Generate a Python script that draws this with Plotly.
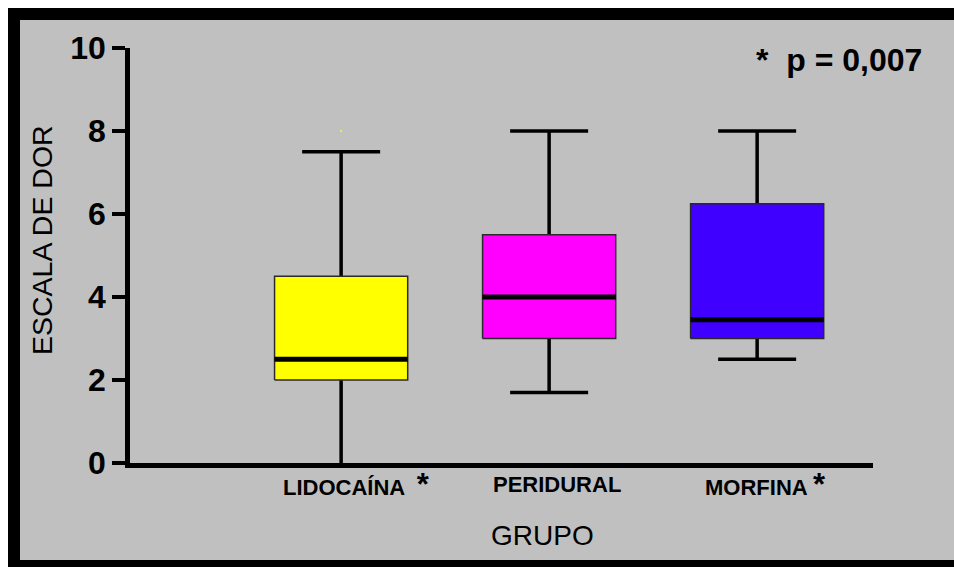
import plotly.graph_objects as go

# Pain score summary per group (box-and-whisker statistics)
grupos = ["LIDOCAÍNA", "PERIDURAL", "MORFINA"]
marcado = [True, False, True]          # groups flagged as significant
minimo = [0.0, 1.7, 2.5]
q1 = [2.0, 3.0, 3.0]
mediana = [2.5, 4.0, 3.45]
q3 = [4.5, 5.5, 6.25]
maximo = [7.5, 8.0, 8.0]
outliers = [[8.0], [], []]
cores = ["#ffff00", "#ff00ff", "#3f00ff"]
y_ticks = [0, 2, 4, 6, 8, 10]
p_texto = "*  p = 0,007"

posicoes = [1, 2, 3]
meia_caixa = 0.32
meia_barra = 0.1875

fig = go.Figure()

for i, g in enumerate(grupos):
    xc = posicoes[i]
    # whiskers
    fig.add_trace(go.Scatter(
        x=[xc, xc, None, xc, xc],
        y=[q3[i], maximo[i], None, q1[i], minimo[i]],
        mode="lines", line=dict(color="black", width=3.5),
        hoverinfo="skip", showlegend=False))
    # whisker caps (a cap lying on the axis merges with the axis line)
    cx, cy = [xc - meia_barra, xc + meia_barra], [maximo[i], maximo[i]]
    if minimo[i] > y_ticks[0]:
        cx += [None, xc - meia_barra, xc + meia_barra]
        cy += [None, minimo[i], minimo[i]]
    fig.add_trace(go.Scatter(
        x=cx, y=cy, mode="lines", line=dict(color="black", width=3.5),
        hoverinfo="skip", showlegend=False))
    # box body
    fig.add_trace(go.Scatter(
        x=[xc - meia_caixa, xc + meia_caixa, xc + meia_caixa, xc - meia_caixa, xc - meia_caixa],
        y=[q1[i], q1[i], q3[i], q3[i], q1[i]],
        mode="lines", fill="toself", fillcolor=cores[i],
        line=dict(color="#2a2a2a", width=1.5),
        name=g, showlegend=False))
    # median
    fig.add_trace(go.Scatter(
        x=[xc - meia_caixa, xc + meia_caixa],
        y=[mediana[i], mediana[i]],
        mode="lines", line=dict(color="black", width=5),
        hoverinfo="skip", showlegend=False))
    # outliers
    if outliers[i]:
        fig.add_trace(go.Scatter(
            x=[xc] * len(outliers[i]), y=outliers[i],
            mode="markers", marker=dict(color=cores[i], size=2),
            hoverinfo="skip", showlegend=False))

# group labels under the axis
for i, g in enumerate(grupos):
    sep = "  " if i == 0 else " "
    texto = g + (sep + "<span style='font-size:31px'>*</span>" if marcado[i] else "")
    fig.add_annotation(
        x=posicoes[i], y=0, xref="x", yref="y",
        text=texto, showarrow=False, xanchor="center", yanchor="middle",
        xshift=15 if i == 0 else 8, yshift=-21,
        font=dict(family="Liberation Sans", size=22, color="black", weight="bold"))

fig.add_annotation(
    x=(542 - 130) / 743, y=0, xref="paper", yref="y",
    text="GRUPO", showarrow=False, xanchor="center", yanchor="middle", yshift=-72,
    font=dict(family="Liberation Sans", size=28, color="black"))

fig.add_annotation(
    x=(42 - 130) / 743, y=(463 - 240) / 415, xref="paper", yref="paper",
    text="ESCALA DE DOR", textangle=-90, showarrow=False,
    xanchor="center", yanchor="middle",
    font=dict(family="Liberation Sans", size=28.5, color="black"))

fig.add_annotation(
    x=(839 - 130) / 743, y=(463 - 60) / 415, xref="paper", yref="paper",
    text=p_texto, showarrow=False, xanchor="center", yanchor="middle",
    font=dict(family="Liberation Sans", size=32, color="black", weight="bold"))

# frame: white strip top/left, black border top/left/bottom, gray panel
def px_x(p):
    return (p - 130) / 743

def px_y(p):
    return (463 - p) / 415

faixas = [
    ((0, 954, 0, 8), "white"),
    ((0, 8, 0, 567), "white"),
    ((8, 954, 8, 20), "black"),
    ((8, 20, 8, 567), "black"),
    ((8, 954, 560, 567), "black"),
]
for (xa, xb, ya, yb), cor in faixas:
    fig.add_shape(type="rect", xref="paper", yref="paper", layer="below",
                  x0=px_x(xa), x1=px_x(xb), y0=px_y(yb), y1=px_y(ya),
                  fillcolor=cor, line=dict(width=0))

fig.update_layout(
    width=954, height=567,
    margin=dict(l=130, r=81, t=48, b=104),
    paper_bgcolor="#c0c0c0",
    plot_bgcolor="rgba(0,0,0,0)",
    showlegend=False,
    xaxis=dict(range=[-0.015, 3.557], showline=True, linecolor="black", linewidth=4.5,
               showgrid=False, zeroline=False, ticks="", showticklabels=False,
               fixedrange=True),
    yaxis=dict(range=[0, 10], tickvals=y_ticks, showline=True, linecolor="black",
               linewidth=4.5, showgrid=False, zeroline=False, ticks="outside",
               ticklen=13, tickwidth=4, tickcolor="black", ticklabelstandoff=0,
               tickfont=dict(family="Liberation Sans", size=32, color="black", weight="bold"),
               fixedrange=True),
)

fig.write_html("out.html")
